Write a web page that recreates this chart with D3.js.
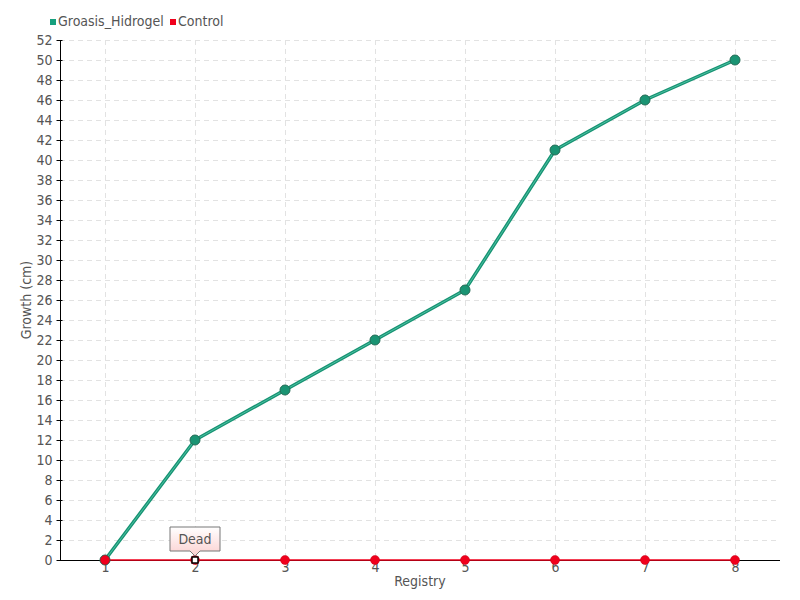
<!DOCTYPE html>
<html lang="en">
<head>
<meta charset="utf-8">
<title>Growth</title>
<script src="https://d3js.org/d3.v7.min.js"></script>
<style>
  body { margin: 0; background: #fff; }
  text { font-family: "DejaVu Sans Condensed", "Liberation Sans Narrow", sans-serif; }
</style>
</head>
<body>
<script>
"use strict";

// data
let registry = [1, 2, 3, 4, 5, 6, 7, 8];
let groasis = [0, 12, 17, 22, 27, 41, 46, 50];
let control = [0, 0, 0, 0, 0, 0, 0, 0];
let seriesNames = ["Groasis_Hidrogel", "Control"];
let seriesColors = ["#17a07e", "#f0001c"];
let yTicks = d3.range(0, 53, 2);

let w = 800, h = 600;
let svg = d3.select("body").append("svg").attr("width", w).attr("height", h);

let x = d3.scaleLinear().domain([0.5, 8.5]).range([60, 780]);
let y = d3.scaleLinear().domain([0, 52]).range([560, 40]);

let defs = svg.append("defs");
let grad = defs.append("linearGradient").attr("id", "tipGrad")
    .attr("x1", 0).attr("y1", 0).attr("x2", 0).attr("y2", 1);
grad.append("stop").attr("offset", "0%").attr("stop-color", "#ffffff");
grad.append("stop").attr("offset", "100%").attr("stop-color", "#fbd0d0");

// grid
svg.append("g").selectAll("line").data(yTicks.filter(d => d > 0)).enter().append("line")
    .attr("x1", 60).attr("x2", 780)
    .attr("y1", d => y(d) + 0.5).attr("y2", d => y(d) + 0.5)
    .style("stroke", "#e2e2e2").style("stroke-dasharray", "5,4");
svg.append("g").selectAll("line").data(registry).enter().append("line")
    .attr("x1", d => x(d) + 0.5).attr("x2", d => x(d) + 0.5)
    .attr("y1", 40).attr("y2", 560)
    .style("stroke", "#e2e2e2").style("stroke-dasharray", "5,4");

// axes
let yAxis = svg.append("g").attr("transform", "translate(60.5,0)")
    .call(d3.axisLeft(y).tickValues(yTicks).tickSize(4).tickPadding(4));
yAxis.select(".domain").attr("stroke", "#000").attr("d", "M0," + y(52) + "V" + y(0));
yAxis.selectAll(".tick line").attr("x2", -4).attr("x1", 2).attr("stroke", "#000");
yAxis.selectAll(".tick text").style("font-size", "14px").attr("fill", "#555");

let xAxis = svg.append("g").attr("transform", "translate(0,560.5)")
    .call(d3.axisBottom(x).tickValues(registry).tickFormat(d3.format("d")).tickSize(4).tickPadding(-2));
xAxis.select(".domain").attr("stroke", "#000").attr("d", "M60,0H780");
xAxis.selectAll(".tick line").attr("stroke", "#999");
xAxis.selectAll(".tick text").style("font-size", "14px").attr("fill", "#555");

svg.append("text").attr("x", 420).attr("y", 586).attr("text-anchor", "middle")
    .style("font-size", "14px").attr("fill", "#555").text("Registry");
svg.append("text").attr("transform", "translate(31,300) rotate(-90)").attr("text-anchor", "middle")
    .style("font-size", "14px").attr("fill", "#555").text("Growth (cm)");

let line = d3.line().x((d, i) => x(registry[i])).y(d => y(d));

// control series
svg.append("path").datum(control).attr("d", line)
    .attr("fill", "none").attr("stroke", seriesColors[1]).attr("stroke-width", 1.5);

// groasis series
svg.append("path").datum(groasis).attr("d", line)
    .attr("fill", "none").attr("stroke", "#179373").attr("stroke-width", 3.5);
svg.append("path").datum(groasis).attr("d", line)
    .attr("fill", "none").attr("stroke", "#4cc0a2").attr("stroke-width", 1);
svg.append("g").selectAll("circle").data(groasis).enter().append("circle")
    .attr("cx", (d, i) => x(registry[i])).attr("cy", d => y(d)).attr("r", 5)
    .attr("fill", "#1a9473").attr("stroke", "#246b55").attr("stroke-width", 1);

svg.append("g").selectAll("circle").data(control).enter().append("circle")
    .attr("cx", (d, i) => x(registry[i])).attr("cy", d => y(d)).attr("r", 4.5)
    .attr("fill", seriesColors[1]).attr("stroke", "#c8001a").attr("stroke-width", 0.5);

// highlighted point + tooltip
let hx = x(registry[1]), hy = y(control[1]);
svg.append("rect").attr("x", hx - 3).attr("y", hy - 3).attr("width", 6).attr("height", 6)
    .attr("fill", "#fff").attr("stroke", "#000").attr("stroke-width", 1.5);
let tip = svg.append("g").attr("transform", "translate(" + hx + "," + (hy - 8) + ")");
tip.append("path")
    .attr("d", "M-25,-25H25V-1H5L0,4L-5,-1H-25Z")
    .attr("fill", "url(#tipGrad)").attr("stroke", "#777").attr("stroke-width", 1);
tip.append("text").attr("x", 0).attr("y", -8).attr("text-anchor", "middle")
    .style("font-size", "14px").attr("fill", "#555").text("Dead");

// legend
let legX = [50, 170];
let leg = svg.append("g").selectAll("g").data(seriesNames).enter().append("g")
    .attr("transform", (d, i) => "translate(" + legX[i] + ",0)");
leg.append("rect").attr("x", 0).attr("y", 19).attr("width", 6).attr("height", 6)
    .attr("fill", (d, i) => seriesColors[i]);
leg.append("text").attr("x", 8).attr("y", 26).style("font-size", "14px").attr("fill", "#555")
    .text(d => d);
</script>
</body>
</html>
